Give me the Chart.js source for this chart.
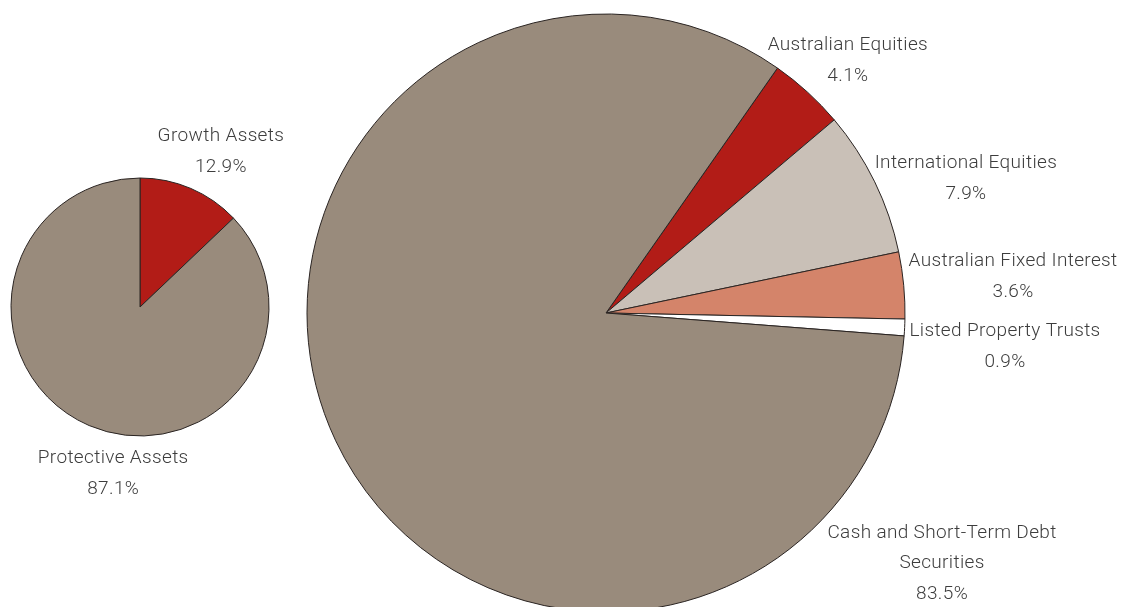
<!DOCTYPE html>
<html>
<head>
  <script src="https://cdn.jsdelivr.net/npm/chart.js"></script>
  <style>
    body { margin: 0; background: #fff; overflow: hidden; }
    .wrap { position: relative; width: 1121px; height: 607px; overflow: hidden; }
    canvas { position: absolute; left: 0; top: 0; }
  </style>
</head>
<body>
  <div class="wrap">
    <canvas id="bigPie" width="1121" height="640"></canvas>
    <canvas id="smallPie" width="1121" height="607"></canvas>
  </div>

  <script>
    // Growth vs protective split
    var splitLabels = [['Growth Assets'], ['Protective Assets']];
    var splitValues = [12.9, 87.1];
    var splitColors = ['#b21c17', '#998b7c'];

    // Asset class breakdown
    var assetLabels = [
      ['Australian Equities'],
      ['International Equities'],
      ['Australian Fixed Interest'],
      ['Listed Property Trusts'],
      ['Cash and Short-Term Debt', 'Securities']
    ];
    var assetValues = [4.1, 7.9, 3.6, 0.9, 83.5];
    var assetColors = ['#b21c17', '#c9c0b7', '#d4846a', '#ffffff', '#998b7c'];

    // where each label sits: angle (deg from 12 o'clock) and distance as share of radius
    var splitLabelPos = [[27.4, 1.363], [189.2, 1.30]];
    var assetLabelPos = [[43.7, 1.171], [69.4, 1.286], [84.8, 1.367], [94.7, 1.339], [126.6, 1.40]];

    var labelPlugin = {
      id: 'sliceLabels',
      afterDraw: function(chart) {
        var ctx = chart.ctx;
        var meta = chart.getDatasetMeta(0);
        var opts = chart.options.plugins.sliceLabels;
        ctx.save();
        ctx.font = '300 19px Roboto, "Liberation Sans", sans-serif';
        ctx.letterSpacing = '0.35px';
        ctx.fillStyle = '#3d3d3d';
        ctx.textAlign = 'center';
        ctx.textBaseline = 'middle';
        meta.data.forEach(function(arc, i) {
          var p = opts.pos[i];
          var a = p[0] * Math.PI / 180;
          var r = arc.outerRadius * p[1];
          var cx = arc.x + r * Math.sin(a);
          var cy = arc.y - r * Math.cos(a);
          var lines = opts.names[i].concat([chart.data.datasets[0].data[i].toFixed(1) + '%']);
          var lh = 30.5;
          var y0 = cy - (lines.length - 1) * lh / 2;
          lines.forEach(function(t, k) {
            ctx.fillText(t, cx, y0 + k * lh + 1);
          });
        });
        ctx.restore();
      }
    };

    function pieConfig(values, colors, names, pos, radius, rotation, pad) {
      return {
        type: 'pie',
        data: {
          labels: names.map(function(n) { return n.join(' '); }),
          datasets: [{
            data: values,
            backgroundColor: colors,
            borderColor: '#2a2422',
            borderWidth: 1,
            hoverOffset: 0
          }]
        },
        options: {
          responsive: false,
          animation: false,
          events: [],
          rotation: rotation,
          radius: radius,
          layout: { padding: pad },
          plugins: {
            legend: { display: false },
            tooltip: { enabled: false },
            sliceLabels: { names: names, pos: pos }
          }
        },
        plugins: [labelPlugin]
      };
    }

    new Chart(document.getElementById('bigPie').getContext('2d'),
      pieConfig(assetValues, assetColors, assetLabels, assetLabelPos, 299, 35,
        { left: 307, right: 216, top: 14, bottom: 28 }));

    new Chart(document.getElementById('smallPie').getContext('2d'),
      pieConfig(splitValues, splitColors, splitLabels, splitLabelPos, 129, 0,
        { left: 11, right: 852, top: 178, bottom: 171 }));
  </script>
</body>
</html>
